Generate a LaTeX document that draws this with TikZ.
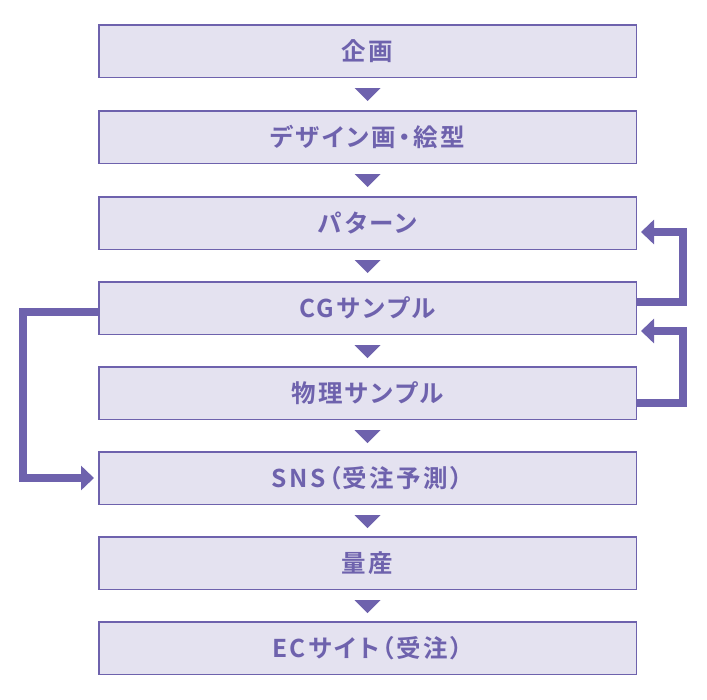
\documentclass[tikz,border=0pt]{standalone}
\usepackage{fontspec}
\usetikzlibrary{arrows.meta,positioning}
\newfontfamily\jpfont{Noto Sans CJK JP Bold}[LetterSpace=10,RawFeature=+palt]
\definecolor{flowline}{HTML}{6E62AD}
\definecolor{flowfill}{HTML}{E4E2F0}
\tikzset{
  stepbox/.style={draw=flowline,fill=flowfill,line width=1.5pt,
    minimum width=537.5pt,minimum height=52.5pt,inner sep=0pt,
    text=flowline,font=\jpfont\fontsize{24.5}{28}\selectfont},
  tri/.style={fill=flowline},
  loopline/.style={draw=flowline,line width=8pt,line join=miter,
    -{Triangle[length=13pt,width=24pt]}}
}

\begin{document}
\begin{tikzpicture}[x=1pt,y=-1pt]
\useasboundingbox (0,0) rectangle (707,699);
\node[stepbox] (kikaku) at (367.5,51) {企画};
\node[stepbox] (design) at (367.5,137) {デザイン画・絵型};
\node[stepbox] (pattern) at (367.5,223) {パターン};
\node[stepbox] (cg) at (367.5,308) {CGサンプル};
\node[stepbox] (butsuri) at (367.5,393) {物理サンプル};
\node[stepbox] (sns) at (367.5,478) {SNS（受注予測）};
\node[stepbox] (ryosan) at (367.5,563) {量産};
\node[stepbox] (ec) at (367.5,648) {ECサイト（受注）};
% triangles between the steps
\fill[tri] ([xshift=-13pt,yshift=-10pt]kikaku.south) -- ([xshift=13pt,yshift=-10pt]kikaku.south) -- ([yshift=-23pt]kikaku.south) -- cycle;
\fill[tri] ([xshift=-13pt,yshift=-10pt]design.south) -- ([xshift=13pt,yshift=-10pt]design.south) -- ([yshift=-23pt]design.south) -- cycle;
\fill[tri] ([xshift=-13pt,yshift=-10pt]pattern.south) -- ([xshift=13pt,yshift=-10pt]pattern.south) -- ([yshift=-23pt]pattern.south) -- cycle;
\fill[tri] ([xshift=-13pt,yshift=-10pt]cg.south) -- ([xshift=13pt,yshift=-10pt]cg.south) -- ([yshift=-23pt]cg.south) -- cycle;
\fill[tri] ([xshift=-13pt,yshift=-10pt]butsuri.south) -- ([xshift=13pt,yshift=-10pt]butsuri.south) -- ([yshift=-23pt]butsuri.south) -- cycle;
\fill[tri] ([xshift=-13pt,yshift=-10pt]sns.south) -- ([xshift=13pt,yshift=-10pt]sns.south) -- ([yshift=-23pt]sns.south) -- cycle;
\fill[tri] ([xshift=-13pt,yshift=-10pt]ryosan.south) -- ([xshift=13pt,yshift=-10pt]ryosan.south) -- ([yshift=-23pt]ryosan.south) -- cycle;
% feedback loops
\draw[loopline] ([yshift=6pt]cg.east) -- ++(45.5,0) |- ([xshift=4pt,yshift=-9pt]pattern.east);
\draw[loopline] ([yshift=-10pt]butsuri.east) -- ++(45.5,0) |- ([xshift=4pt,yshift=-23pt]cg.east);
\draw[loopline] ([yshift=-4pt]cg.west) -- ++(-75.5,0) |- ([xshift=-4pt]sns.west);
\end{tikzpicture}
\end{document}
